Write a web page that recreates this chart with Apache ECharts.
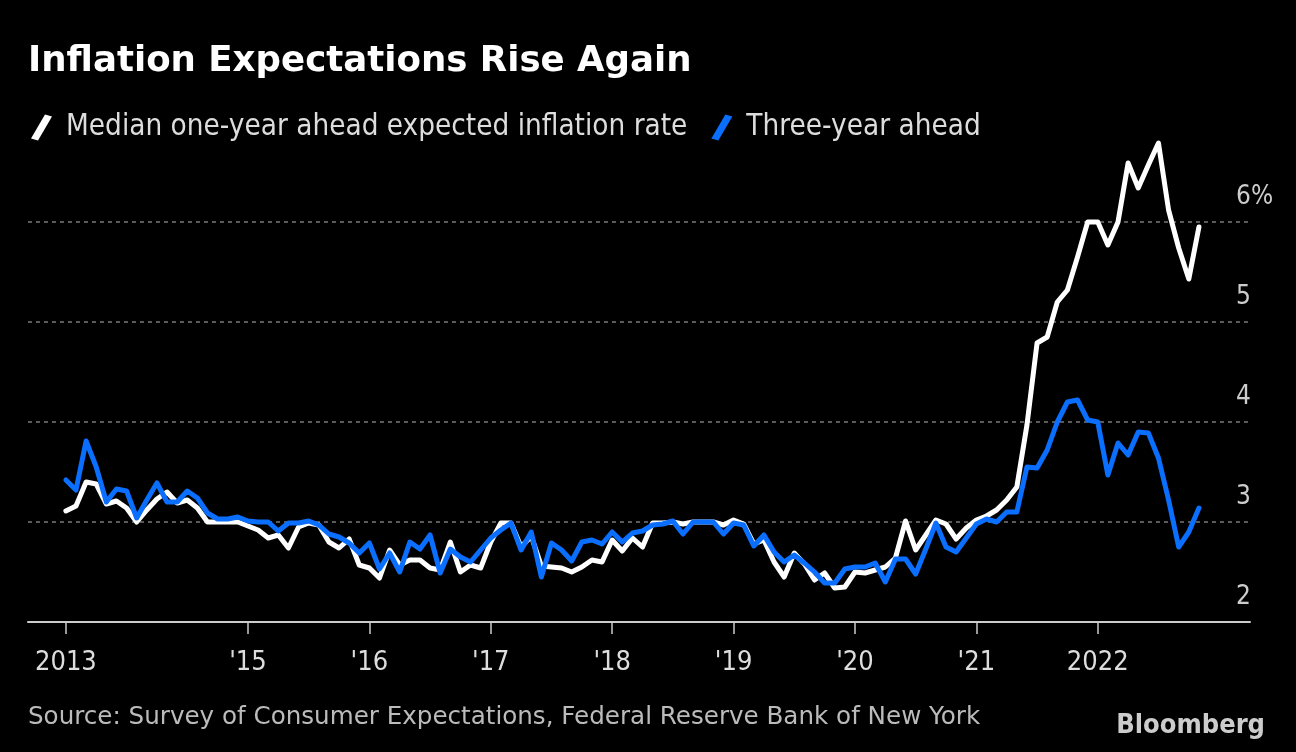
<!DOCTYPE html>
<html><head><meta charset="utf-8">
<script src="https://cdn.jsdelivr.net/npm/echarts@6/dist/echarts.min.js"></script>
<style>html,body{margin:0;padding:0;background:#000;} #c{width:1296px;height:752px;}</style>
</head><body><div id="c"></div>
<script>
// Monthly survey data, June 2013 .. October 2022 (plotted at month end)
const startYear = 2013, startMonth = 6;
const oneYearAhead = [
 3.11,3.16,3.40,3.38,3.18,3.21,3.14,3.00,3.12,3.23,3.30,3.19,3.22,3.14,3.00,3.00,3.00,3.00,2.96,2.92,
 2.84,2.87,2.74,2.95,2.99,2.97,2.80,2.74,2.83,2.57,2.54,2.44,2.72,2.57,2.62,2.62,2.54,2.52,2.80,2.50,
 2.57,2.54,2.80,2.99,2.99,2.75,2.86,2.56,2.55,2.54,2.50,2.55,2.62,2.60,2.82,2.71,2.84,2.75,2.99,2.99,
 3.00,2.98,3.00,3.00,3.00,2.97,3.02,2.98,2.78,2.82,2.60,2.45,2.69,2.58,2.42,2.49,2.34,2.35,2.50,2.49,
 2.52,2.55,2.64,3.01,2.72,2.87,3.02,2.98,2.83,2.94,3.02,3.06,3.12,3.22,3.35,3.97,4.79,4.85,5.20,5.32,
 5.65,6.00,6.00,5.77,6.00,6.59,6.34,6.57,6.79,6.12,5.74,5.43,5.95
];
const threeYearAhead = [
 3.42,3.32,3.81,3.55,3.20,3.33,3.31,3.04,3.22,3.39,3.20,3.20,3.31,3.24,3.09,3.03,3.03,3.05,3.01,3.00,
 3.00,2.91,2.99,2.99,3.01,2.97,2.88,2.85,2.79,2.69,2.79,2.53,2.69,2.50,2.80,2.73,2.87,2.49,2.73,2.65,
 2.60,2.72,2.84,2.92,2.99,2.72,2.90,2.45,2.79,2.72,2.61,2.80,2.82,2.78,2.90,2.80,2.89,2.91,2.97,2.98,
 3.01,2.88,3.00,3.00,3.00,2.88,2.99,2.97,2.76,2.87,2.70,2.60,2.67,2.59,2.50,2.39,2.39,2.53,2.55,2.55,
 2.59,2.40,2.63,2.63,2.48,2.73,2.99,2.75,2.70,2.84,2.98,3.03,3.00,3.10,3.10,3.55,3.54,3.72,4.00,4.20,
 4.22,4.02,4.00,3.47,3.79,3.67,3.90,3.89,3.64,3.22,2.75,2.90,3.14
];
const seriesNames = ['Median one-year ahead expected inflation rate', 'Three-year ahead'];
const xTickValues = [2013.5, 2015, 2016, 2017, 2018, 2019, 2020, 2021, 2022];
const xTickLabels = ['2013', "'15", "'16", "'17", "'18", "'19", "'20", "'21", '2022'];
const yTickValues = [2, 3, 4, 5, 6];
const yTickLabels = ['2', '3', '4', '5', '6%'];

const FONT = '"DejaVu Sans Condensed", "DejaVu Sans", sans-serif';
const FONT_WIDE = '"DejaVu Sans", sans-serif';
const toX = i => startYear + (startMonth + i) / 12;
const pts = arr => arr.map((v, i) => [toX(i), v]);
const lookup = (vals, labels) => v => {
  const k = vals.findIndex(t => Math.abs(t - v) < 1e-6);
  return k >= 0 ? labels[k] : '';
};

const chart = echarts.init(document.getElementById('c'), null, {renderer: 'canvas'});
chart.setOption({
  backgroundColor: '#000',
  animation: false,
  textStyle: {fontFamily: FONT},
  title: [
    {text: 'Inflation Expectations Rise Again', left: 23, top: 39,
     textStyle: {color: '#fff', fontSize: 35.6, fontWeight: 'bold', fontFamily: FONT_WIDE}},
    {text: 'Source: Survey of Consumer Expectations, Federal Reserve Bank of New York', left: 23, top: 700,
     textStyle: {color: '#bbb', fontSize: 24.6, fontWeight: 'normal', fontFamily: FONT_WIDE}},
    {text: 'Bloomberg', right: 26, top: 707,
     textStyle: {color: '#ccc', fontSize: 27, fontWeight: 'bold', fontFamily: FONT}}
  ],
  legend: {
    left: 26, top: 108, itemWidth: 21, itemHeight: 26, itemGap: 24,
    icon: 'path://M0,24 L7,26 L21,2 L14,0 Z',
    textStyle: {color: '#ddd', fontSize: 29.4, fontFamily: FONT, padding: [0, 0, 0, 9]},
    data: seriesNames
  },
  grid: {left: 28, right: 46, top: 122, bottom: 130, containLabel: false},
  xAxis: {
    type: 'value', min: 2013.188, max: 2023.254,
    splitLine: {show: false},
    axisLine: {show: true, lineStyle: {color: '#ccc', width: 2}},
    axisTick: {show: true, customValues: xTickValues, length: 12, lineStyle: {color: '#ccc', width: 1.5}},
    axisLabel: {customValues: xTickValues, formatter: lookup(xTickValues, xTickLabels),
      color: '#ddd', fontSize: 27, margin: 27, fontFamily: FONT}
  },
  yAxis: {
    type: 'value', position: 'right', min: 2, max: 7, interval: 1,
    axisLine: {show: false}, axisTick: {show: false},
    splitLine: {show: true, showMinLine: false, showMaxLine: false,
      lineStyle: {color: '#777', type: [4, 4], width: 1.5}},
    axisLabel: {customValues: yTickValues, formatter: lookup(yTickValues, yTickLabels),
      margin: -14, align: 'left', verticalAlign: 'bottom', padding: [0, 0, 12, 0],
      color: '#ccc', fontSize: 26, fontFamily: FONT}
  },
  series: [
    {name: seriesNames[0], type: 'line', data: pts(oneYearAhead), showSymbol: false, symbol: 'none',
     color: '#ffffff', lineStyle: {width: 5, color: '#ffffff', cap: 'round', join: 'round'}, z: 2},
    {name: seriesNames[1], type: 'line', data: pts(threeYearAhead), showSymbol: false, symbol: 'none',
     color: '#0a6eff', lineStyle: {width: 5, color: '#0a6eff', cap: 'round', join: 'round'}, z: 3}
  ]
});
</script></body></html>
